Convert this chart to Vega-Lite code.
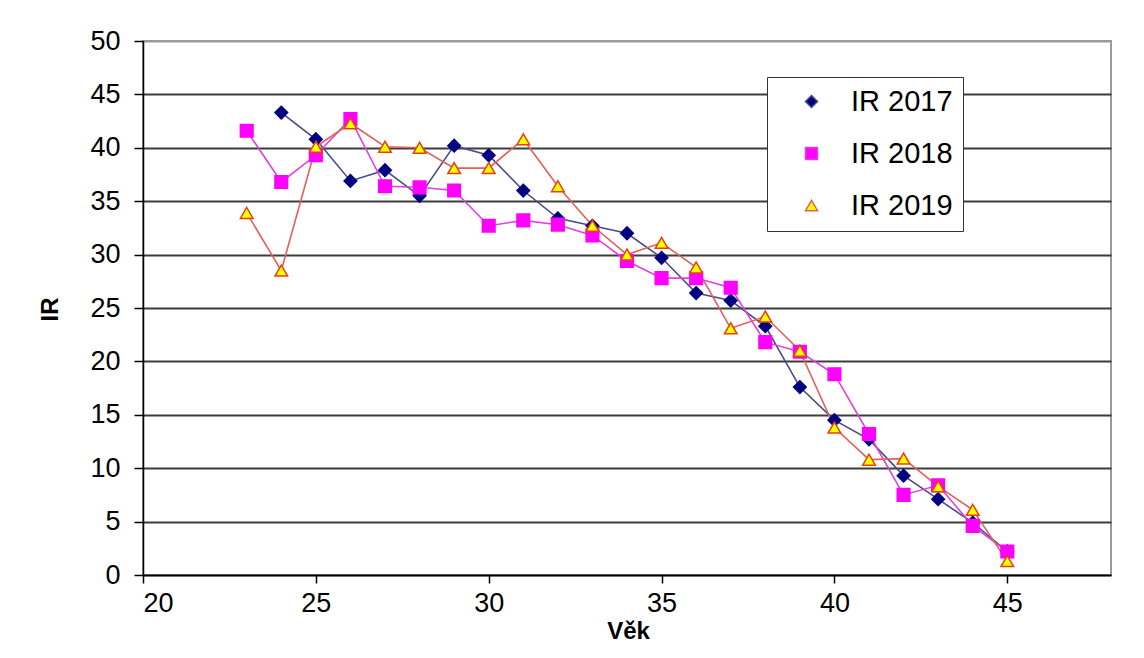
{
  "$schema": "https://vega.github.io/schema/vega-lite/v6.json",
  "width": 1144,
  "height": 658,
  "autosize": {"type": "fit", "contains": "padding"},
  "padding": {"left": 38, "top": 27, "right": 33, "bottom": 15},
  "background": "white",
  "config": {
    "font": "Liberation Sans",
    "view": {"stroke": "#9a9a9a", "strokeWidth": 2}
  },
  "data": {
    "values": [
      {"vek": 24, "rada": "IR 2017", "ir": 43.3},
      {"vek": 25, "rada": "IR 2017", "ir": 40.8},
      {"vek": 26, "rada": "IR 2017", "ir": 36.9},
      {"vek": 27, "rada": "IR 2017", "ir": 37.9},
      {"vek": 28, "rada": "IR 2017", "ir": 35.5},
      {"vek": 29, "rada": "IR 2017", "ir": 40.2},
      {"vek": 30, "rada": "IR 2017", "ir": 39.3},
      {"vek": 31, "rada": "IR 2017", "ir": 36.0},
      {"vek": 32, "rada": "IR 2017", "ir": 33.4},
      {"vek": 33, "rada": "IR 2017", "ir": 32.7},
      {"vek": 34, "rada": "IR 2017", "ir": 32.0},
      {"vek": 35, "rada": "IR 2017", "ir": 29.7},
      {"vek": 36, "rada": "IR 2017", "ir": 26.4},
      {"vek": 37, "rada": "IR 2017", "ir": 25.7},
      {"vek": 38, "rada": "IR 2017", "ir": 23.3},
      {"vek": 39, "rada": "IR 2017", "ir": 17.6},
      {"vek": 40, "rada": "IR 2017", "ir": 14.5},
      {"vek": 41, "rada": "IR 2017", "ir": 12.7},
      {"vek": 42, "rada": "IR 2017", "ir": 9.3},
      {"vek": 43, "rada": "IR 2017", "ir": 7.1},
      {"vek": 44, "rada": "IR 2017", "ir": 4.9},
      {"vek": 45, "rada": "IR 2017", "ir": 2.2},
      {"vek": 23, "rada": "IR 2018", "ir": 41.6},
      {"vek": 24, "rada": "IR 2018", "ir": 36.8},
      {"vek": 25, "rada": "IR 2018", "ir": 39.3},
      {"vek": 26, "rada": "IR 2018", "ir": 42.7},
      {"vek": 27, "rada": "IR 2018", "ir": 36.4},
      {"vek": 28, "rada": "IR 2018", "ir": 36.3},
      {"vek": 29, "rada": "IR 2018", "ir": 36.0},
      {"vek": 30, "rada": "IR 2018", "ir": 32.7},
      {"vek": 31, "rada": "IR 2018", "ir": 33.2},
      {"vek": 32, "rada": "IR 2018", "ir": 32.8},
      {"vek": 33, "rada": "IR 2018", "ir": 31.8},
      {"vek": 34, "rada": "IR 2018", "ir": 29.4},
      {"vek": 35, "rada": "IR 2018", "ir": 27.8},
      {"vek": 36, "rada": "IR 2018", "ir": 27.8},
      {"vek": 37, "rada": "IR 2018", "ir": 26.9},
      {"vek": 38, "rada": "IR 2018", "ir": 21.8},
      {"vek": 39, "rada": "IR 2018", "ir": 20.9},
      {"vek": 40, "rada": "IR 2018", "ir": 18.8},
      {"vek": 41, "rada": "IR 2018", "ir": 13.2},
      {"vek": 42, "rada": "IR 2018", "ir": 7.5},
      {"vek": 43, "rada": "IR 2018", "ir": 8.4},
      {"vek": 44, "rada": "IR 2018", "ir": 4.6},
      {"vek": 45, "rada": "IR 2018", "ir": 2.2},
      {"vek": 23, "rada": "IR 2019", "ir": 33.9},
      {"vek": 24, "rada": "IR 2019", "ir": 28.5},
      {"vek": 25, "rada": "IR 2019", "ir": 40.1},
      {"vek": 26, "rada": "IR 2019", "ir": 42.3},
      {"vek": 27, "rada": "IR 2019", "ir": 40.1},
      {"vek": 28, "rada": "IR 2019", "ir": 40.0},
      {"vek": 29, "rada": "IR 2019", "ir": 38.1},
      {"vek": 30, "rada": "IR 2019", "ir": 38.1},
      {"vek": 31, "rada": "IR 2019", "ir": 40.8},
      {"vek": 32, "rada": "IR 2019", "ir": 36.4},
      {"vek": 33, "rada": "IR 2019", "ir": 32.7},
      {"vek": 34, "rada": "IR 2019", "ir": 30.0},
      {"vek": 35, "rada": "IR 2019", "ir": 31.1},
      {"vek": 36, "rada": "IR 2019", "ir": 28.8},
      {"vek": 37, "rada": "IR 2019", "ir": 23.1},
      {"vek": 38, "rada": "IR 2019", "ir": 24.2},
      {"vek": 39, "rada": "IR 2019", "ir": 21.0},
      {"vek": 40, "rada": "IR 2019", "ir": 13.8},
      {"vek": 41, "rada": "IR 2019", "ir": 10.8},
      {"vek": 42, "rada": "IR 2019", "ir": 10.9},
      {"vek": 43, "rada": "IR 2019", "ir": 8.3},
      {"vek": 44, "rada": "IR 2019", "ir": 6.1},
      {"vek": 45, "rada": "IR 2019", "ir": 1.3}
    ]
  },
  "encoding": {
    "x": {
      "field": "vek",
      "type": "quantitative",
      "scale": {"domain": [20, 48], "nice": false, "zero": false},
      "axis": {
        "title": "Věk",
        "values": [20, 25, 30, 35, 40, 45],
        "grid": false,
        "domainColor": "black",
        "domainWidth": 1.5,
        "tickColor": "black",
        "tickWidth": 1.5,
        "tickSize": 8,
        "labelFontSize": 27,
        "labelColor": "black",
        "labelPadding": 7,
        "titleFontSize": 24,
        "titleFontWeight": "bold",
        "titleColor": "black",
        "titleX": 485,
        "titleY": 44,
        "titleBaseline": "top"
      }
    },
    "y": {
      "field": "ir",
      "type": "quantitative",
      "scale": {"domain": [0, 50], "nice": false},
      "axis": {
        "title": "IR",
        "values": [0, 5, 10, 15, 20, 25, 30, 35, 40, 45, 50],
        "grid": true,
        "gridColor": {"condition": {"test": "datum.value === 50", "value": "#9a9a9a"}, "value": "#3c3c3c"},
        "gridWidth": 2,
        "domainColor": "black",
        "domainWidth": 1.5,
        "tickColor": "black",
        "tickWidth": 1.5,
        "tickSize": 9,
        "labelFontSize": 27,
        "labelColor": "black",
        "labelPadding": 14,
        "titleFontSize": 24,
        "titleFontWeight": "bold",
        "titleColor": "black",
        "titleX": -93,
        "titleY": 268,
        "titleAngle": -90,
        "titleAlign": "center",
        "titleBaseline": "middle"
      }
    }
  },
  "layer": [
    {
      "mark": {"type": "line", "strokeWidth": 1.6},
      "encoding": {
        "color": {
          "field": "rada",
          "type": "nominal",
          "scale": {"domain": ["IR 2017", "IR 2018", "IR 2019"], "range": ["#4a4a86", "#e040e0", "#e0605a"]},
          "legend": {
            "title": null,
            "orient": "none",
            "legendX": 624,
            "legendY": 36,
            "padding": 10,
            "strokeColor": "#333333",
            "fillColor": "white",
            "labelFontSize": 29,
            "labelColor": "black",
            "rowPadding": 22,
            "symbolSize": 144,
            "symbolOffset": 20,
            "labelOffset": 25
          }
        }
      }
    },
    {
      "mark": {"type": "point", "filled": true, "strokeWidth": 1.5, "opacity": 1, "size": 160},
      "encoding": {
        "shape": {
          "field": "rada",
          "type": "nominal",
          "scale": {"domain": ["IR 2017", "IR 2018", "IR 2019"], "range": ["diamond", "square", "triangle-up"]},
          "legend": null
        },
        "fill": {
          "field": "rada",
          "type": "nominal",
          "scale": {"domain": ["IR 2017", "IR 2018", "IR 2019"], "range": ["#000080", "#ff00ff", "#ffff00"]},
          "legend": null
        },
        "stroke": {
          "field": "rada",
          "type": "nominal",
          "scale": {"domain": ["IR 2017", "IR 2018", "IR 2019"], "range": ["#000080", "#ff00ff", "#e84010"]},
          "legend": null
        }
      }
    }
  ]
}
